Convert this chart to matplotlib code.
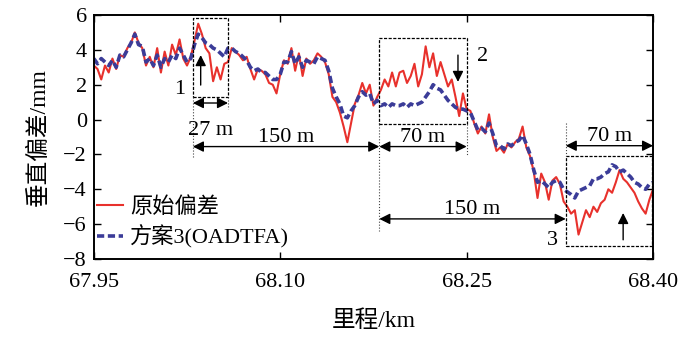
import numpy as np
import matplotlib
matplotlib.use("Agg")
from matplotlib import pyplot as plt

# --- data (3 m sampling) ---
start_km = 67.950
step_km = 0.003

raw_dev = [
    3.1, 2.9, 2.3, 3.1, 2.7, 3.5, 2.9, 3.7, 3.6, 4.1,
    4.4, 5.0, 4.4, 4.1, 3.1, 3.6, 3.0, 4.1, 2.7, 3.9,
    3.1, 4.3, 3.7, 4.6, 3.5, 3.1, 3.6, 4.5, 5.5, 4.9,
    4.1, 3.8, 2.2, 3.0, 2.3, 3.2, 3.3, 4.1, 3.9, 3.7,
    3.4, 3.6, 2.9, 2.3, 2.9, 2.8, 2.6, 2.1, 2.0, 1.5,
    2.6, 3.4, 3.2, 4.1, 2.8, 3.8, 2.5, 3.5, 3.2, 3.4,
    3.8, 3.6, 3.3, 2.6, 1.3, 1.0, 0.4, -0.4, -1.3, -0.2,
    0.9, 1.4, 2.1, 1.5, 2.0, 0.8, 1.3, 1.7, 2.3, 1.9,
    2.7, 1.9, 2.7, 2.8, 2.1, 2.5, 3.2, 1.9, 2.6, 4.2,
    3.0, 3.8, 2.5, 3.3, 2.6, 1.9, 2.3, 1.3, 0.2, 1.5,
    0.6, 0.5, -0.2, -0.8, -0.4, -0.8, 0.3, -1.0, -1.8, -1.6,
    -1.9, -1.4, -1.6, -1.3, -1.1, -0.4, -1.6, -2.1, -3.0, -4.5,
    -3.1, -3.6, -4.6, -3.5, -3.3, -3.7, -4.7, -5.0, -5.4, -5.2,
    -6.6, -5.9, -5.2, -5.6, -5.0, -5.3, -4.8, -4.6, -4.0, -4.2,
    -3.6, -2.9, -3.4, -3.6, -3.9, -4.2, -4.7, -5.1, -5.4, -4.6,
    -4.0,
]

oadtfa_dev = [
    3.5, 3.2, 3.5, 3.3, 3.1, 3.4, 3.0, 3.7, 3.6, 4.0,
    4.4, 4.9, 4.3, 4.2, 3.3, 3.5, 3.1, 3.7, 3.0, 3.5,
    3.3, 3.7, 3.5, 4.1, 3.7, 3.3, 3.5, 4.3, 4.9, 4.7,
    4.4, 4.3, 4.1, 4.0, 3.8, 3.6, 4.1, 4.1, 3.9, 3.8,
    3.6, 3.4, 3.0, 2.8, 2.9, 2.7, 2.7, 2.5, 2.3, 2.3,
    2.6, 3.3, 3.3, 3.9, 3.2, 3.6, 3.0, 3.4, 3.3, 3.2,
    3.6, 3.5, 3.4, 2.8, 1.8, 1.3, 0.9, 0.2, 0.1, 0.5,
    0.8, 1.3, 1.6, 1.4, 1.5, 0.9, 1.1, 0.8, 0.9, 0.7,
    0.9, 0.8, 0.8, 0.9, 0.7, 0.9, 0.8, 0.9, 1.0, 1.3,
    1.6, 2.0, 1.8, 1.7, 1.4, 1.1, 0.9, 0.7, 0.6, 0.6,
    0.5, 0.4, -0.1, -0.6, -0.5, -0.7, -0.2, -0.8, -1.5, -1.5,
    -1.7, -1.4, -1.5, -1.3, -1.2, -0.9, -1.4, -2.0, -2.9, -3.6,
    -3.5, -3.7, -3.9, -3.6, -3.5, -3.6, -4.0, -4.15, -4.3, -4.5,
    -4.1, -4.0, -3.9, -3.8, -3.4, -3.4, -3.3, -3.1, -3.0, -2.6,
    -2.7, -3.0, -2.9, -3.1, -3.3, -3.6, -3.7, -3.9, -4.0, -3.7,
    -3.6,
]

xticks = [67.95, 68.10, 68.25, 68.40]
yticks = [-8, -6, -4, -2, 0, 2, 4, 6]
series_names = ["原始偏差", "方案3(OADTFA)"]

# marked sections: (x0, x1, y0, y1)
boxes = [(68.0297, 68.058, 1.30, 5.83),
         (68.1797, 68.250, -0.25, 4.66),
         (68.3297, 68.399, -7.25, -2.07)]


def dim_arrow(ax, x0, x1, y, label, ty):
    ax.annotate("", xy=(x0, y), xytext=(x1, y),
                arrowprops=dict(arrowstyle="<|-|>", color="black", lw=1.0,
                                mutation_scale=16, shrinkA=0, shrinkB=0))
    ax.text((x0 + x1) / 2, ty, label, ha="center", va="bottom", fontsize=16)


def main():
    plt.rcParams['font.family'] = ['Liberation Serif', 'Noto Sans CJK SC']
    plt.rcParams['axes.unicode_minus'] = True

    mileage = start_km + step_km * np.arange(len(raw_dev))

    fig = plt.figure(figsize=(7, 3.37), dpi=100)
    ax = fig.add_axes([0.134, 0.2315, 0.799, 0.724])

    ax.plot(mileage, raw_dev, color='#e8312c', lw=1.5, label=series_names[0])
    ax.plot(mileage, oadtfa_dev, color='#3b3c98', lw=2.6,
            linestyle=(0, (2.0, 1.0)), label=series_names[1])

    ax.set_xlim(67.95, 68.40)
    ax.set_ylim(-8, 6)
    ax.set_xticks(xticks)
    ax.set_xticklabels([f"{v:.2f}" for v in xticks])
    ax.set_yticks(yticks)
    ax.tick_params(direction='in', top=True, right=True, labelsize=16,
                   length=5, width=1.0)
    ax.tick_params(axis='x', pad=10)
    ax.tick_params(axis='y', pad=5)
    for s in ax.spines.values():
        s.set_linewidth(1.4)

    ax.set_xlabel("里程/km", fontsize=17, labelpad=13)
    ax.set_ylabel("垂直偏差/mm", fontsize=17, labelpad=10)

    # dashed boxes
    for x0, x1, y0, y1 in boxes:
        ax.plot([x0, x1, x1, x0, x0], [y0, y0, y1, y1, y0], color='black',
                lw=0.9, linestyle=(0, (2.5, 1.2)))

    # dotted guide lines
    guides = [(68.0297, 1.30, -2.2), (68.058, 1.30, 0.6),
              (68.1797, -0.25, -6.4), (68.250, -0.25, -2.1),
              (68.3297, -0.2, -2.07)]
    for gx, gy0, gy1 in guides:
        ax.plot([gx, gx], [gy0, gy1], color='#444444', lw=0.8, linestyle=':')

    # distance arrows
    dim_arrow(ax, 68.0297, 68.058, 0.95, "27 m", -1.15)
    dim_arrow(ax, 68.0297, 68.1797, -1.55, "150 m", -1.55)
    dim_arrow(ax, 68.1797, 68.250, -1.55, "70 m", -1.55)
    dim_arrow(ax, 68.3297, 68.400, -1.5, "70 m", -1.5)
    dim_arrow(ax, 68.1797, 68.3297, -5.7, "150 m", -5.7)

    # section numbers
    ax.text(68.019, 1.7, "1", fontsize=16, ha="center", va="center")
    ax.text(68.2625, 3.6, "2", fontsize=16, ha="center", va="center")
    ax.text(68.3187, -6.95, "3", fontsize=16, ha="center", va="center")

    # pointing arrows
    point_args = dict(arrowstyle="-|>", color="black", lw=1.0,
                      mutation_scale=16, shrinkA=0, shrinkB=0)
    ax.annotate("", xy=(68.036, 3.7), xytext=(68.036, 1.98), arrowprops=point_args)
    ax.annotate("", xy=(68.243, 2.16), xytext=(68.243, 3.7), arrowprops=point_args)
    ax.annotate("", xy=(68.3759, -5.36), xytext=(68.3759, -6.9), arrowprops=point_args)

    ax.legend(loc='upper left', bbox_to_anchor=(0.005, 0.255), frameon=False,
              fontsize=16, handlelength=1.2, handletextpad=0.3,
              labelspacing=0.35, borderpad=0, borderaxespad=0)

    fig.savefig("out.png", dpi=100)


if __name__ == "__main__":
    main()
